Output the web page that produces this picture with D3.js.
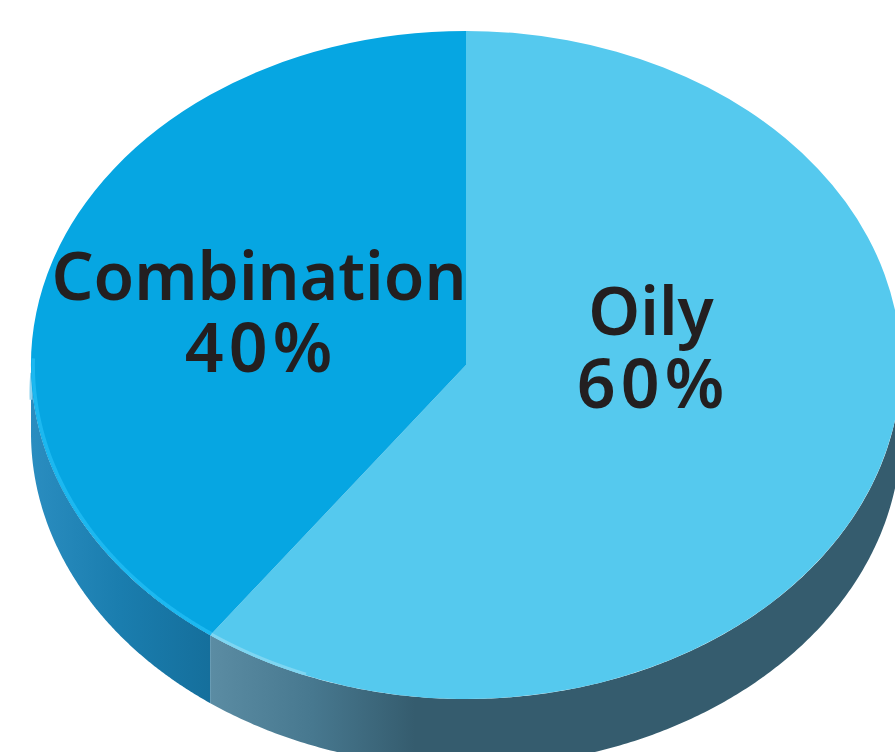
<!DOCTYPE html>
<html>
<head>
<meta charset="utf-8">
<script src="https://cdn.jsdelivr.net/npm/d3@7"></script>
<style>
html,body{margin:0;padding:0;background:#fff;overflow:hidden}
svg{display:block}
text{font-family:"Noto Sans",sans-serif;font-weight:600;fill:#231f20;text-anchor:middle}
</style>
</head>
<body>
<svg id="c" width="895" height="752"></svg>
<script>
const categories = ["Oily", "Combination"];
const shares = [60, 40];
const colors = ["#55c9ee", "#06a6e2"];
const shareLabels = ["60%", "40%"];

const svg = d3.select("#c");
const cx = 466, cy = 365, rx = 435, ry = 334, depth = 68;
const toX = d3.scaleLinear().domain([-1, 1]).range([cx - rx, cx + rx]);
const toY = d3.scaleLinear().domain([-1, 1]).range([cy - ry, cy + ry]);

const pie = d3.pie().sort(null).value(d => d)(shares);
const rimPt = (a, dy = 0) => [toX(Math.sin(a)), toY(-Math.cos(a)) + dy];
const sweep = (a0, a1, n = 240) => d3.range(n + 1).map(i => a0 + (a1 - a0) * i / n);
const line = d3.line();
const scaled = (p, k) => [cx + (p[0] - cx) * k, cy + (p[1] - cy) * k];

const defs = svg.append("defs");
function gradient(id, x1, x2, stops) {
  const g = defs.append("linearGradient").attr("id", id)
    .attr("gradientUnits", "userSpaceOnUse")
    .attr("x1", x1).attr("x2", x2).attr("y1", 0).attr("y2", 0);
  stops.forEach(s => g.append("stop").attr("offset", s[0]).attr("stop-color", s[1]));
}
gradient("sideOily", 210, 415, [[0, "#5b8ca3"], [0.5, "#47788f"], [1, "#355c6e"]]);
gradient("sideCombo", 31, 210, [[0, "#2a8dc0"], [0.5, "#1a7dae"], [1, "#156f9c"]]);

// visible extruded wall of each slice (only the front half of the ellipse shows)
const front = [Math.PI / 2, 3 * Math.PI / 2];
pie.forEach((d, i) => {
  const a0 = Math.max(d.startAngle, front[0]);
  const a1 = Math.min(d.endAngle, front[1]);
  const top = sweep(a0, a1).map(a => rimPt(a));
  const bottom = sweep(a1, a0).map(a => rimPt(a, depth));
  svg.append("path")
    .attr("d", line(top.concat(bottom)) + "Z")
    .attr("fill", i === 0 ? "url(#sideOily)" : "url(#sideCombo)");
});

// pale fringe on the far-left edge of the wall
svg.append("path")
  .attr("d", line(sweep(front[1] - 0.02, front[1] + 0.06, 30).map(a => rimPt(a, 28))))
  .attr("fill", "none").attr("stroke", "#8fd3ee").attr("stroke-width", 3);

// top face
const arc = d3.arc().innerRadius(0).outerRadius(1);
const face = svg.append("g")
  .attr("transform", `translate(${cx},${cy}) scale(${rx},${ry})`);
face.selectAll("path").data(pie).join("path")
  .attr("d", arc)
  .attr("fill", (d, i) => colors[i]);

// bright rim on the front edge of the darker slice
svg.append("path")
  .attr("d", line(sweep(pie[1].startAngle, front[1] + 0.02).map(a => scaled(rimPt(a), 0.995))))
  .attr("fill", "none").attr("stroke", "#1cb8f0").attr("stroke-width", 3.5);
svg.append("path")
  .attr("d", line(sweep(pie[0].endAngle - 0.25, pie[0].endAngle).map(a => scaled(rimPt(a), 0.996))))
  .attr("fill", "none").attr("stroke", "#7ed6f2").attr("stroke-width", 3);

// labels: name and share as two lines of one text
const labelPos = [[651, 335, 653, 408], [259, 300, 261, 372]];
const nameSize = [66, 66];
const shareSize = [68, 68];
categories.forEach((c, i) => {
  const p = labelPos[i];
  const t = svg.append("text");
  t.append("tspan").attr("x", p[0]).attr("y", p[1]).attr("font-size", nameSize[i]).text(c);
  t.append("tspan").attr("x", p[2]).attr("y", p[3]).attr("font-size", shareSize[i])
    .attr("letter-spacing", 5).text(shareLabels[i]);
});
</script>
</body>
</html>
